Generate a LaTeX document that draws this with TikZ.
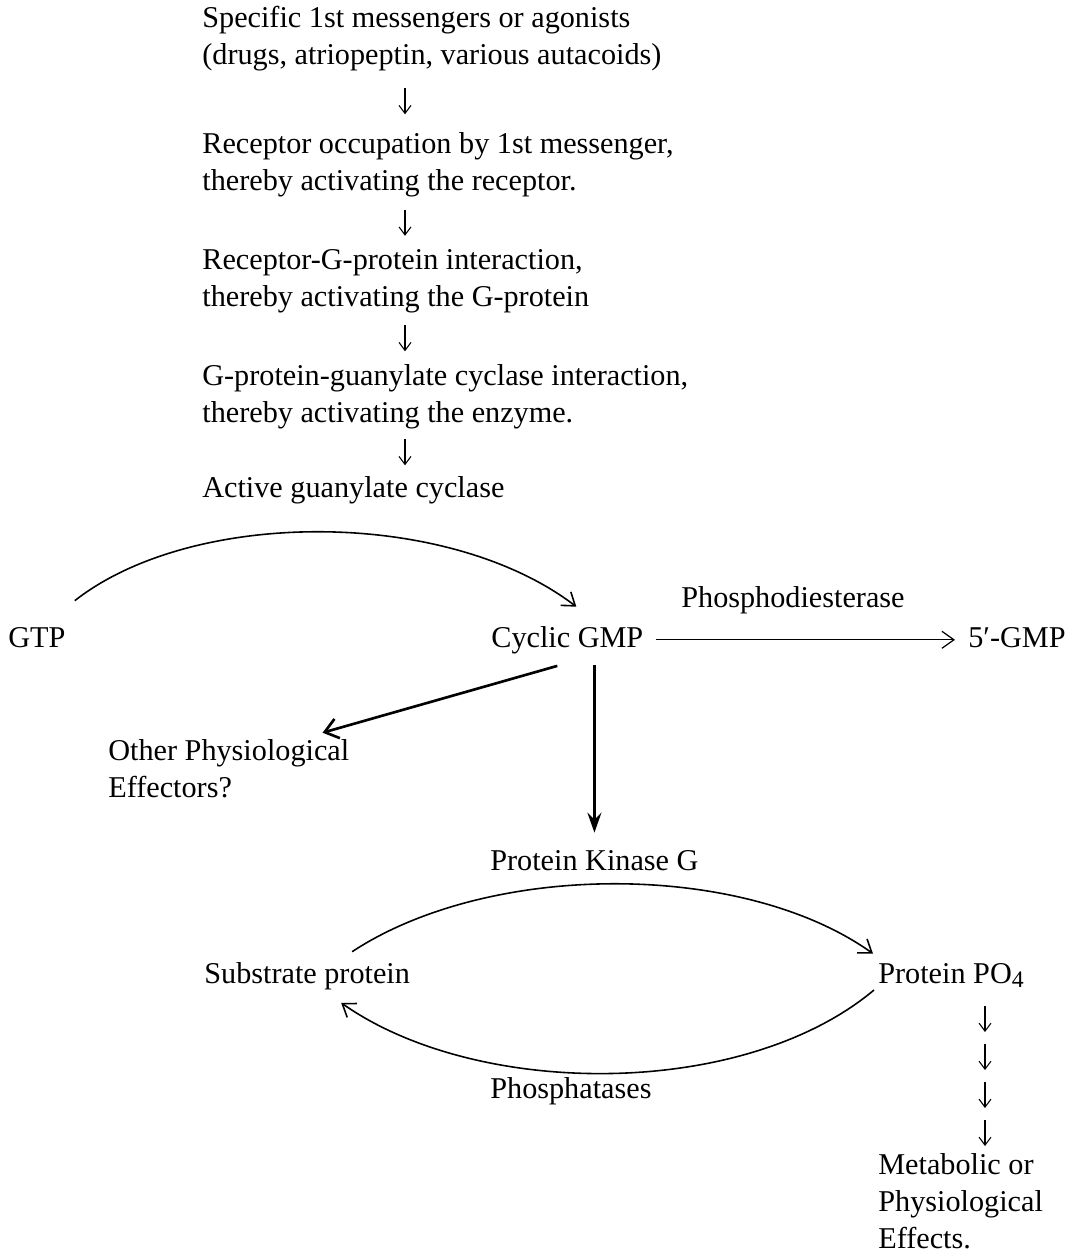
\documentclass[tikz,border=0pt]{standalone}
\usepackage{fontspec}
\setmainfont{Liberation Serif}
\usetikzlibrary{arrows.meta,calc}
\newcommand\chainarrow[2]{\draw[glyph arrow] ($(#1.south -| col)!0.5!(#2.north -| col)+(0,-13)$) -- ++(0,26);}

\begin{document}
\begin{tikzpicture}[x=0.02cm, y=-0.02cm,
	every node/.style={inner sep=0pt, font=\fontsize{17.2}{21.05}\selectfont},
	txt/.style={anchor=base west, align=left},
	glyph arrow/.style={line width=0.6pt, -{Straight Barb[length=1.6mm,width=2.4mm]}},
	thin arrow/.style={line width=0.9pt, -{Straight Barb[length=2.4mm,width=3.4mm]}},
	bold arrow/.style={line width=1.5pt, -{Stealth[length=4mm,width=2.8mm,inset=1.4mm]}}]
			%%%%% START %%%%%
			\useasboundingbox (0,0) rectangle (1078,1252);
			\coordinate (col) at (405,0);
			\coordinate (pcol) at (985,0);
			
			% multi-line nodes sit on the baseline of their last line
			\node[txt] (spec) at (202,64) {Specific 1st messengers or agonists\\(drugs, atriopeptin, various autacoids)};
			\node[txt] (occ) at (202,190) {Receptor occupation by 1st messenger,\\thereby activating the receptor.};
			\node[txt] (gprot) at (202,306) {Receptor-G-protein interaction,\\thereby activating the G-protein};
			\node[txt] (gcyc) at (202,422) {G-protein-guanylate cyclase interaction,\\thereby activating the enzyme.};
			\node[txt] (agc) at (202,497) {Active guanylate cyclase};
			
			\chainarrow{spec}{occ}
			\chainarrow{occ}{gprot}
			\chainarrow{gprot}{gcyc}
			\chainarrow{gcyc}{agc}
			
			\node[txt] (gtp) at (8,647) {GTP};
			\node[txt] (cgmp) at (491,647) {Cyclic GMP};
			\node[txt] (pde) at (681,607) {Phosphodiesterase};
			\node[txt] (gmp) at (968,647) {5′-GMP};
			\node[txt] (other) at (108,797) {Other Physiological\\Effectors?};
			\node[txt] (pkg) at (490,870) {Protein Kinase G};
			\node[txt] (subst) at (204,983) {Substrate protein};
			\node[txt] (ppo) at (878,983) {Protein PO\raisebox{-2.8pt}{\fontsize{13.5}{14}\selectfont 4}};
			\node[txt] (phos) at (490,1098) {Phosphatases};
			\node[txt] (effects) at (878,1248) {Metabolic or\\Physiological\\Effects.};
			
			% GTP -> cyclic GMP
			\draw[thin arrow] ($(gtp.north east)+(9,-26)$) .. controls (193,508) and (447,508) .. ($(cgmp.north)+(9,-19)$);
			\draw[thin arrow, line width=0.7pt, shorten <=12*0.02cm, shorten >=13*0.02cm] (cgmp.east) -- (cgmp.east -| gmp.west);
			\draw[line width=1.5pt, -{Straight Barb[length=2.6mm,width=4mm]}] ($(cgmp.south)+(-10,12)$) -- ($(other.north east)+(-27,-6)$);
			\draw[bold arrow, shorten <=11*0.02cm, shorten >=17*0.02cm] (cgmp.south -| pkg.north) -- (pkg.north);
			
			% kinase / phosphatase cycle
			\draw[thin arrow] ($(subst.north)+(45,-10)$) .. controls (490,861) and (743,861) .. ($(ppo.north west)+(-5,-9)$);
			\draw[thin arrow] ($(ppo.base west)+(-4,7)$) .. controls (744,1099) and (478,1099) .. ($(subst.south)+(34,13)$);
			
			\foreach \k in {0,...,3}
				\draw[glyph arrow] ($(ppo.base -| pcol)+(0,23+38*\k)$) -- ++(0,26);
			%%%%% END %%%%%
\end{tikzpicture}
\end{document}
